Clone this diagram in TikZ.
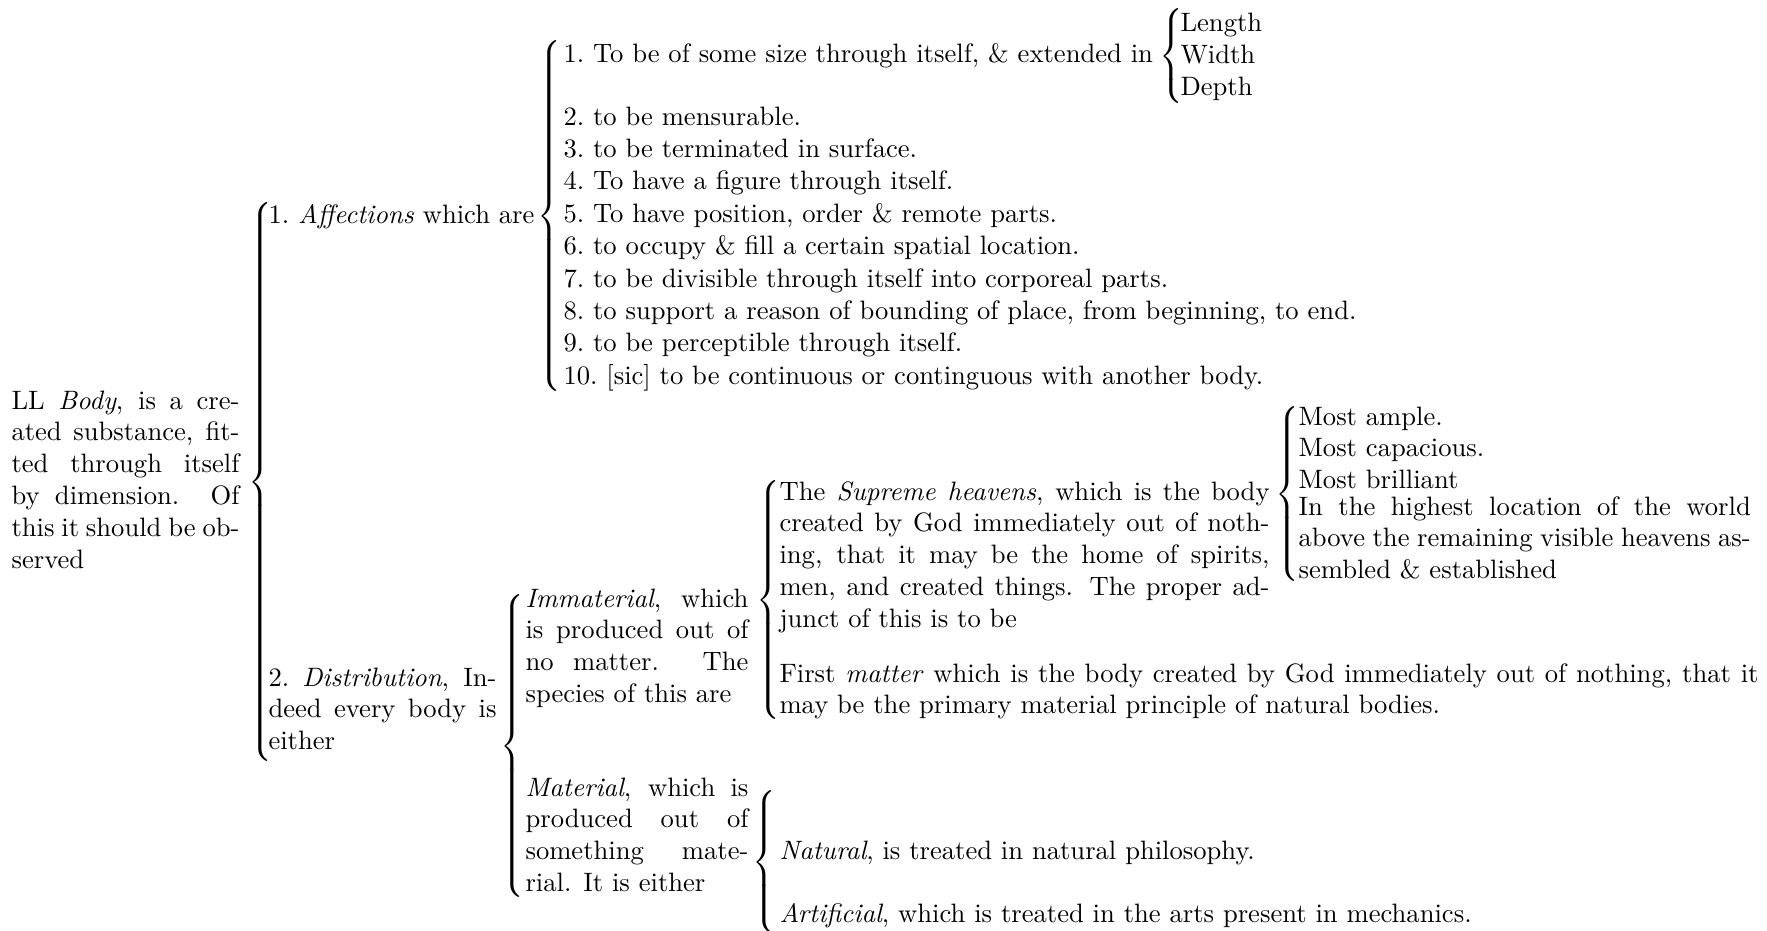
\documentclass[tikz,border=0pt]{standalone}
\usetikzlibrary{positioning}
\delimiterfactor=1000
\delimitershortfall=0pt
\newcommand{\bracefor}[1]{$\left\{\vcenter{\hbox{\rule{0pt}{#1}}}\right.$}

\begin{document}
\begin{tikzpicture}[
  x=0.3759pt, y=-0.3759pt,
  font=\fontsize{10}{12}\selectfont,
  txt/.style={anchor=base west, inner sep=0pt},
  para/.style={txt, align=justify},
  lst/.style={txt, align=left, text width=#1},
  brc/.style={anchor=east, inner sep=0pt}
]
\useasboundingbox (0,0) rectangle (1767,930);

% the body
\node[para, text width=85.7pt] (body) at (11,409)
  {LL \emph{Body}, is a cre-\linebreak ated substance, fit-\linebreak ted through itself\linebreak
   by dimension.  Of\linebreak this it should be ob-\linebreak served};
\node[brc] (b1) at (276,482) {\bracefor{207pt}};

% affections
\node[txt] (affect) at (268,223) {1.\ \emph{Affections} which are};
\node[brc] (b2) at (565,216) {\bracefor{129pt}};
\node[txt] (size) at (563,63) {1.\ To be of some size through itself, \& extended in};
\node[brc] (b3) at (1187,56) {\bracefor{33pt}};
\node[lst=40pt] (dims) at (1180,31.5) {Length\\Width\\Depth};
\node[lst=400pt, font=\fontsize{10}{12.18}\selectfont] (props) at (563,125)
  {2.\ to be mensurable.\\
   3.\ to be terminated in surface.\\
   4.\ To have a figure through itself.\\
   5.\ To have position, order \& remote parts.\\
   6.\ to occupy \& fill a certain spatial location.\\
   7.\ to be divisible through itself into corporeal parts.\\
   8.\ to support a reason of bounding of place, from beginning, to end.\\
   9.\ to be perceptible through itself.\\
   10.\ [sic] to be continuous or continguous with another body.};

% distribution
\node[para, text width=85.7pt] (distrib) at (268,686)
  {2.\ \emph{Distribution}, In-\linebreak deed every body is\linebreak either};
\node[brc] (b4) at (528,746) {\bracefor{112pt}};
\node[para, text width=83.8pt] (immat) at (525,607)
  {\emph{Immaterial}, which\linebreak is produced out of\linebreak no matter.  The\linebreak species of this are};
\node[para, text width=83.8pt] (mat) at (525,796)
  {\emph{Material}, which is\linebreak produced out of\linebreak something mate-\linebreak rial. It is either};

% species of the immaterial
\node[brc] (b5) at (784,600) {\bracefor{88pt}};
\node[para, text width=184.2pt] (heavens) at (779,500)
  {The \emph{Supreme heavens}, which is the body\linebreak created by God immediately out of noth-\linebreak
   ing, that it may be the home of spirits,\linebreak men, and created things.  The proper ad-\linebreak
   junct of this is to be};
\node[para, text width=368pt] (first) at (779,682)
  {First \emph{matter} which is the body created by God immediately out of nothing, that it\linebreak
   may be the primary material principle of natural bodies.};
\node[brc] (b6) at (1303,494) {\bracefor{63pt}};
\node[lst=100pt] (most) at (1298,425) {Most ample.\\Most capacious.\\Most brilliant};
\node[para, text width=170pt] (highest) at (1298,515)
  {In the highest location of the world\linebreak above the remaining visible heavens as-\linebreak
   sembled \& established};

% material
\node[brc] (b7) at (780,862) {\bracefor{51pt}};
\node[txt] (natural) at (779,859) {\emph{Natural}, is treated in natural philosophy.};
\node[txt] (artif) at (779,922) {\emph{Artificial}, which is treated in the arts present in mechanics.};
\end{tikzpicture}
\end{document}
